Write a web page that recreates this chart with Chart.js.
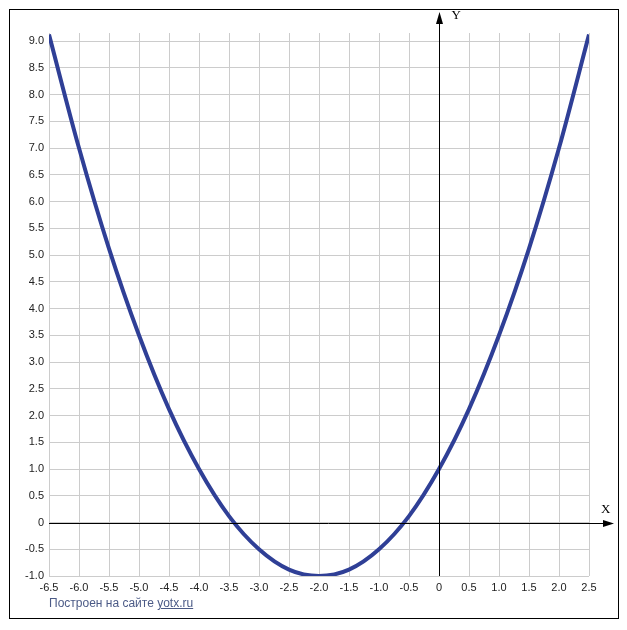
<!DOCTYPE html>
<html>
<head>
<meta charset="utf-8">
<script src="https://cdn.jsdelivr.net/npm/chart.js@4/dist/chart.umd.min.js"></script>
<style>
  *{margin:0;padding:0;box-sizing:border-box}
  html,body{width:627px;height:630px;background:#fff;overflow:hidden}
  .wrap{position:relative;width:627px;height:630px}
  .frame{position:absolute;left:9px;top:9px;width:610px;height:610px;border:1.5px solid #000;pointer-events:none}
  .credit{position:absolute;left:49px;top:596px;font:12px "Liberation Sans",Arial,sans-serif;color:#4b5a86}
  .credit u{text-decoration:underline}
  canvas{position:absolute;left:0;top:0}
</style>
</head>
<body>
<div class="wrap">
  <canvas id="chart" width="627" height="630"></canvas>
  <div class="frame"></div>
  <div class="credit">Построен на сайте <u>yotx.ru</u></div>
</div>
<script>
// values
const xValues = [-6.5, -6, -5.5, -5, -4.5, -4, -3.5, -3, -2.5, -2, -1.5, -1, -0.5, 0, 0.5, 1, 1.5, 2, 2.5];
const yValues = [9.12, 7.0, 5.12, 3.5, 2.12, 1.0, 0.12, -0.5, -0.88, -1.0, -0.88, -0.5, 0.12, 1.0, 2.12, 3.5, 5.12, 7.0, 9.12];

const xTicks = [-6.5, -6, -5.5, -5, -4.5, -4, -3.5, -3, -2.5, -2, -1.5, -1, -0.5, 0, 0.5, 1, 1.5, 2, 2.5];
const yTicks = [-1, -0.5, 0, 0.5, 1, 1.5, 2, 2.5, 3, 3.5, 4, 4.5, 5, 5.5, 6, 6.5, 7, 7.5, 8, 8.5, 9];

const fmt = (v) => (v === 0 ? "0" : v.toFixed(1));
const tickFont = { family: "'Liberation Sans', Arial, sans-serif", size: 11 };

// ─── axes through zero with arrows ───
const zeroAxes = {
  id: "zeroAxes",
  afterDatasetsDraw(chart) {
    const { ctx, chartArea, scales } = chart;
    const x0 = Math.round(scales.x.getPixelForValue(0)) + 0.5;
    const y0 = Math.round(scales.y.getPixelForValue(0)) + 0.5;
    ctx.save();
    ctx.strokeStyle = "#000";
    ctx.fillStyle = "#000";
    ctx.lineWidth = 1;
    ctx.beginPath();
    ctx.moveTo(x0, chartArea.bottom);
    ctx.lineTo(x0, 18);
    ctx.moveTo(chartArea.left, y0);
    ctx.lineTo(608, y0);
    ctx.stroke();
    // arrow heads
    ctx.beginPath();
    ctx.moveTo(x0, 12);
    ctx.lineTo(x0 - 3.5, 24);
    ctx.lineTo(x0 + 3.5, 24);
    ctx.closePath();
    ctx.fill();
    ctx.beginPath();
    ctx.moveTo(614, y0);
    ctx.lineTo(603, y0 - 3.5);
    ctx.lineTo(603, y0 + 3.5);
    ctx.closePath();
    ctx.fill();
    ctx.font = "13px 'Liberation Serif', 'DejaVu Serif', serif";
    ctx.textBaseline = "middle";
    ctx.textAlign = "left";
    ctx.fillText("Y", x0 + 12, 16);
    ctx.fillText("X", 601, y0 - 14);
    ctx.restore();
  },
};

new Chart(document.getElementById("chart"), {
  type: "scatter",
  data: {
    datasets: [{
      data: xValues.map((x, i) => ({ x, y: yValues[i] })),
      showLine: true,
      borderColor: "#2f3f96",
      borderWidth: 4,
      pointRadius: 0,
      cubicInterpolationMode: "monotone",
      fill: false,
    }],
  },
  options: {
    responsive: false,
    animation: false,
    events: [],
    layout: { padding: { left: 0, top: 33, right: 38, bottom: 0 } },
    plugins: { legend: { display: false }, tooltip: { enabled: false } },
    scales: {
      x: {
        type: "linear",
        min: -6.5,
        max: 2.5,
        afterBuildTicks: (s) => { s.ticks = xTicks.map((v) => ({ value: v })); },
        afterFit: (s) => { s.height = 54; },
        grid: { color: "#cccccc", lineWidth: 1, drawTicks: false },
        border: { display: false },
        ticks: { color: "#222", font: tickFont, padding: 5, maxRotation: 0, autoSkip: false, callback: fmt },
      },
      y: {
        type: "linear",
        min: -1,
        max: 9.15,
        afterBuildTicks: (s) => { s.ticks = yTicks.map((v) => ({ value: v })); },
        afterFit: (s) => { s.width = 49; },
        grid: { color: "#cccccc", lineWidth: 1, drawTicks: false },
        border: { display: false },
        ticks: { color: "#222", font: tickFont, padding: 5, autoSkip: false, callback: fmt },
      },
    },
  },
  plugins: [zeroAxes],
});
</script>
</body>
</html>
